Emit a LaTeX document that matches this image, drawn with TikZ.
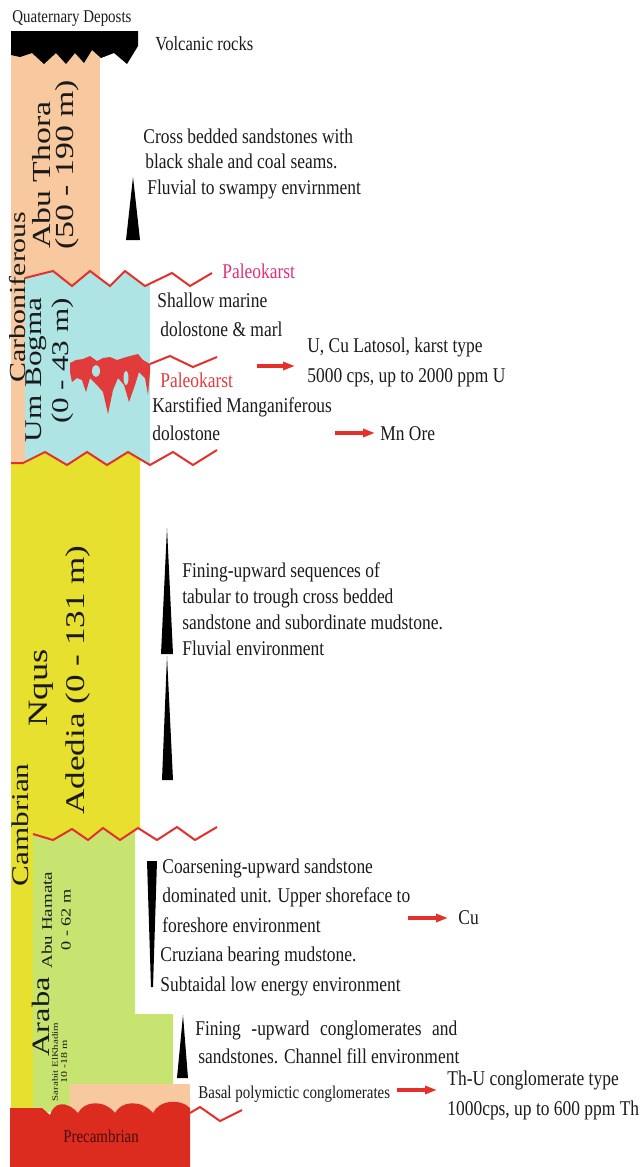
\documentclass[tikz,border=0pt]{standalone}
\usepackage{fontspec}
\setmainfont{Liberation Serif}
\newfontfamily\hfont[FakeStretch=0.83]{Liberation Serif}
\newfontfamily\vfont[FakeStretch=1.3]{Liberation Serif}
\usetikzlibrary{arrows.meta}

\definecolor{peach}{HTML}{F8C89E}
\definecolor{cyanl}{HTML}{AEE4E4}
\definecolor{yell}{HTML}{E8E02E}
\definecolor{grn}{HTML}{C8E470}
\definecolor{prered}{HTML}{DC2B1F}
\definecolor{zigred}{HTML}{E4302A}
\definecolor{pink}{HTML}{E0307A}
\definecolor{karstred}{HTML}{E23B3B}
\definecolor{ink}{HTML}{1A1A1A}
\definecolor{darkred}{HTML}{4A0D0D}

\newcommand\hsz[2]{\hfont\fontsize{#1}{#2}\selectfont}
\newcommand\vsz[1]{\vfont\fontsize{#1}{#1}\selectfont}

\begin{document}
\begin{tikzpicture}[x=0.5pt,y=-0.5pt,
  lbl/.style={inner sep=0pt, anchor=base west, align=left, text=ink,
    font=\hsz{10.5}{12.75}},
  vlbl/.style={inner sep=0pt, rotate=90, text=ink},
  zig/.style={draw=zigred, line width=1pt, line join=miter},
  wedge/.style={fill=black, draw=none},
  ore/.style={draw=zigred, line width=1.6pt, -{Triangle[length=6pt,width=4pt]}}]
\useasboundingbox (0,0) rectangle (641,1167);

% ---- stratigraphic column ----
% Abu Thora and Carboniferous strip
\fill[peach] (11,50) rectangle (100,300);
\fill[peach] (11,50) rectangle (25,463);
% Um Bogma
\fill[cyanl] (25,278) -- (53,271) -- (72,286) -- (90,271) -- (110,286) -- (125,271)
  -- (145,286) -- (150,283.6) -- (150,465) -- (128,452) -- (107,465) -- (87,452)
  -- (67,465) -- (45,452) -- (25,462) -- cycle;
% Adedia and Cambrian strip
\fill[yell] (11,463) -- (23,463) -- (45,452) -- (67,465) -- (87,452) -- (107,465)
  -- (128,452) -- (140,459) -- (140,829.3) -- (138,828) -- (120,840) -- (103,828)
  -- (88,840) -- (72,829) -- (53,840) -- (33,834) -- (33,1110) -- (11,1110) -- cycle;
% Abu Hamata and Sarabit ElKhadim
\fill[grn] (33,834) -- (53,840) -- (72,829) -- (88,840) -- (103,828) -- (120,840)
  -- (135,830) -- (135,1014) -- (173,1014) -- (173,1085) -- (70,1085) -- (70,1112)
  -- (33,1112) -- cycle;
% basal conglomerates
\fill[peach] (70,1084) rectangle (190,1114);
% Precambrian basement
\fill[prered] (10,1108) -- (42,1108) -- (50,1115)
  .. controls (54,1102) and (66,1100) .. (78,1113)
  .. controls (84,1101) and (104,1099) .. (115,1113)
  .. controls (121,1101) and (141,1099) .. (153,1113)
  .. controls (159,1100) and (180,1098) .. (190,1108)
  -- (190,1167) -- (10,1167) -- cycle;
% volcanic rocks
\fill[black] (11,31) -- (138,31) -- (138,46) -- (127,64) -- (114,53) -- (101,58)
  -- (92,50) -- (84,63) -- (75,53) -- (66,64) -- (56,53) -- (44,64) -- (32,53)
  -- (20,57) -- (11,55) -- cycle;

% karst cavity fill
\fill[karstred] (70,363) -- (76,360) -- (83,359) -- (90,356) -- (97,361) -- (103,358)
  -- (110,357) -- (117,360) -- (123,358) -- (130,356) -- (138,354) -- (143,360)
  -- (150,364) -- (150,372) -- (148,395) -- (145,378) -- (139,372) -- (135,385)
  -- (129,402) -- (124,385) -- (118,378) -- (113,390) -- (108,414) -- (103,392)
  -- (97,385) -- (90,378) -- (86,392) -- (82,380) -- (77,378) -- (72,382)
  -- (70,372) -- cycle;
\fill[cyanl] (96,371) ellipse [x radius=4, y radius=6];
\fill[cyanl] (126,378) ellipse [x radius=2.5, y radius=7];

% unconformities
\draw[zig] (25,278) -- (53,271) -- (72,286) -- (90,271) -- (110,286) -- (125,271)
  -- (145,286) -- (172,273) -- (190,286) -- (212,273);
\draw[zig] (150,364) -- (170,356) -- (193,367) -- (217,357);
\draw[zig] (11,463) -- (23,463) -- (45,452) -- (67,465) -- (87,452) -- (107,465)
  -- (128,452) -- (150,465) -- (173,452) -- (193,465) -- (217,450);
\draw[zig] (33,834) -- (53,840) -- (72,829) -- (88,840) -- (103,828) -- (120,840)
  -- (138,828) -- (157,840) -- (177,827) -- (195,840) -- (217,827);
\draw[zig] (190,1113) -- (200,1107) -- (220,1121) -- (242,1110);

% grain-size trends
\fill[wedge] (133,177) -- (140,240) -- (126,240) -- cycle;
\fill[wedge] (167,528) -- (173,654) -- (161,654) -- cycle;
\fill[wedge] (167,656) -- (173,780) -- (162,780) -- cycle;
\fill[wedge] (147,861) -- (157,861) -- (153,987) -- (151,987) -- cycle;
\fill[wedge] (183,1015) -- (188,1078) -- (177,1078) -- cycle;

% ---- column labels ----
\node[lbl, font=\hsz{9}{10}] (quat) at (12,22) {Quaternary Deposts};
\node[vlbl, font=\vsz{11.5}] (carb) at (18,297) {Carboniferous};
\node[vlbl, font=\vsz{13}] (thora) at (42,175) {Abu Thora};
\node[vlbl, font=\vsz{13}] (thoram) at (67,165) {(50 - 190 m)};
\node[vlbl, font=\vsz{12}] (bogma) at (36,370) {Um Bogma};
\node[vlbl, font=\vsz{12}] (bogmam) at (63,361) {(0 - 43 m)};
\node[vlbl, font=\vsz{14}] (nqus) at (41,688) {Nqus};
\node[vlbl, font=\vsz{13.5}] (adedia) at (78,680) {Adedia (0 - 131 m)};
\node[vlbl, font=\vsz{12}] (camb) at (20,825) {Cambrian};
\node[vlbl, font=\vsz{7.3}] (hamata) at (47,920) {Abu Hamata};
\node[vlbl, font=\vsz{7}] (hamatam) at (66,920) {0 - 62 m};
\node[vlbl, font=\vsz{12.5}] (araba) at (41,1017) {Araba};
\node[vlbl, font=\vsz{4.2}] (sarabit) at (55,1062) {Sarabit ElKhadim};
\node[vlbl, font=\vsz{4.6}] (sarabitm) at (64,1062) {10 -18 m};
\node[inner sep=0pt, anchor=base, text=darkred, font=\hsz{9}{10}] (pre) at (101,1142) {Precambrian};

% ---- descriptions (anchored at the baseline of the last line) ----
\node[lbl, font=\hsz{10}{12}] (volc) at (155,50) {Volcanic rocks};
\node[lbl] (abuthora) at (143,194) {Cross bedded sandstones with\\
  \hspace*{1pt}black shale and coal seams.\\
  \hspace*{2pt}Fluvial to swampy envirnment};
\node[lbl, text=pink] (pk1) at (222,278) {Paleokarst};
\node[lbl, font=\hsz{10.5}{14.25}] (shallow) at (157,336) {Shallow marine\\
  \hspace*{1.5pt}dolostone \& marl};
\node[lbl, font=\hsz{10.5}{15}] (latosol) at (307,382) {U, Cu Latosol, karst type\\
  5000 cps, up to 2000 ppm U};
\node[lbl, text=karstred] (pk2) at (160,387) {Paleokarst};
\node[lbl, font=\hsz{10.5}{14}] (mangan) at (152,440) {Karstified Manganiferous\\dolostone};
\node[lbl] (mn) at (380,440) {Mn Ore};
\node[lbl, font=\hsz{10.5}{12.85}] (fining) at (182,655) {Fining-upward sequences of\\
  tabular to trough cross bedded\\
  sandstone and subordinate mudstone.\\
  Fluvial environment};
\node[lbl, font=\hsz{10.5}{14.75}] (coarse) at (162,991) {Coarsening-upward sandstone\\
  dominated unit. Upper shoreface to\\
  foreshore environment\\
  \hspace*{-1pt}Cruziana bearing mudstone.\\
  \hspace*{-1pt}Subtaidal low energy environment};
\node[lbl] (cu) at (458,924) {Cu};
\node[lbl, font=\hsz{10.5}{14}] (channel) at (195,1063)
  {\makebox[131pt][s]{Fining -upward conglomerates and}\\
  \hspace*{1.5pt}sandstones. Channel fill environment};
\node[lbl, font=\hsz{9}{10}] (basal) at (198,1098) {Basal polymictic conglomerates};
\node[lbl, font=\hsz{10.5}{15}] (thu) at (447,1115) {Th-U conglomerate type\\
  1000cps, up to 600 ppm Th};

% ---- ore pointers ----
\coordinate (a1s) at (257,366); \coordinate (a1e) at (295,366);
\coordinate (a2s) at (335,433); \coordinate (a2e) at (375,433);
\coordinate (a3s) at (408,918); \coordinate (a3e) at (448,918);
\coordinate (a4s) at (397,1090); \coordinate (a4e) at (437,1090);
\draw[ore] (a1s) -- (a1e);
\draw[ore] (a2s) -- (a2e);
\draw[ore] (a3s) -- (a3e);
\draw[ore] (a4s) -- (a4e);
\end{tikzpicture}
\end{document}
